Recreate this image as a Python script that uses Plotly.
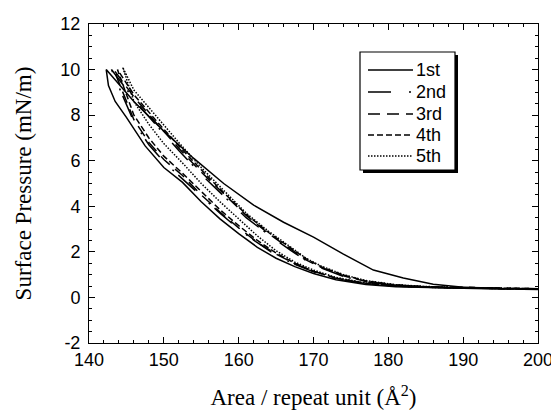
import plotly.graph_objects as go

# ---- data (Area in Å², Surface pressure in mN/m) ----
cycle_names = ["1st", "2nd", "3rd", "4th", "5th"]

# 1st cycle: compression (200 -> 142) then expansion (142 -> 200)
c1_comp_x = [200, 195, 190, 186, 182, 178, 174, 170, 166, 162, 158, 154, 150, 146, 142.3]
c1_comp_y = [0.35, 0.38, 0.45, 0.58, 0.85, 1.2, 1.9, 2.65, 3.3, 4.05, 5.0, 6.1, 7.3, 8.6, 10.0]
c1_exp_x = [142.3, 142.6, 143.5, 145, 147.5, 150, 152.5, 155, 157.5, 160, 162.5, 165, 167.5, 170,
            173, 177, 181, 186, 190, 195, 200]
c1_exp_y = [10.0, 9.3, 8.6, 7.9, 6.65, 5.7, 5.05, 4.2, 3.45, 2.8, 2.2, 1.72, 1.35, 1.05,
            0.78, 0.57, 0.47, 0.42, 0.4, 0.37, 0.35]

# cycles 2-5: compression
comp_x = [200, 195, 190, 185, 181, 177, 174, 171, 169, 167, 164, 161, 158, 155, 152, 149, 146]
c2_comp_y = [0.38, 0.4, 0.42, 0.46, 0.52, 0.68, 0.92, 1.3, 1.62, 2.05, 2.75, 3.5, 4.45, 5.4, 6.45, 7.55, 8.7]
c3_comp_y = [0.38, 0.4, 0.43, 0.47, 0.54, 0.7, 0.95, 1.32, 1.65, 2.1, 2.8, 3.6, 4.55, 5.5, 6.55, 7.65, 8.8]
c4_comp_y = [0.38, 0.4, 0.43, 0.47, 0.55, 0.72, 0.98, 1.35, 1.7, 2.15, 2.85, 3.65, 4.6, 5.6, 6.65, 7.75, 8.9]
c5_comp_y = [0.38, 0.4, 0.43, 0.48, 0.56, 0.74, 1.0, 1.38, 1.72, 2.2, 2.9, 3.7, 4.7, 5.7, 6.8, 7.95, 9.1]

# turning points (smallest area, highest pressure) of cycles 2-5
peak_x = [143.0, 143.3, 143.8, 144.5]
peak_y = [10.0, 10.0, 10.0, 10.1]

# cycles 2-5: expansion
exp_x = [146, 148, 150, 152.5, 155, 157.5, 160, 162.5, 165, 167.5, 170, 173, 177, 181, 186, 190, 195, 200]
c2_exp_y = [7.7, 6.7, 5.95, 5.2, 4.45, 3.7, 3.0, 2.4, 1.85, 1.45, 1.12, 0.82, 0.6, 0.5, 0.44, 0.41, 0.38, 0.36]
c3_exp_y = [7.8, 6.8, 6.05, 5.35, 4.5, 3.75, 3.05, 2.42, 1.9, 1.48, 1.15, 0.84, 0.61, 0.5, 0.44, 0.41, 0.38, 0.36]
c4_exp_y = [8.0, 7.0, 6.2, 5.45, 4.65, 3.85, 3.15, 2.5, 1.95, 1.5, 1.15, 0.85, 0.62, 0.5, 0.44, 0.41, 0.38, 0.36]
c5_exp_y = [8.6, 7.6, 6.75, 5.9, 5.0, 4.2, 3.45, 2.7, 2.05, 1.55, 1.2, 0.88, 0.63, 0.5, 0.44, 0.41, 0.38, 0.36]

x_ticks = [140, 150, 160, 170, 180, 190, 200]
x_tick_labels = ["140", "150", "160", "170", "180", "190", "200"]
y_ticks = [-2, 0, 2, 4, 6, 8, 10, 12]
y_tick_labels = ["-2", "0", "2", "4", "6", "8", "10", "12"]

dashes = ["solid", "23px,18px,2px,6px", "12px,7px", "6px,3px", "1.5px,1.5px"]

# page has an 8px body margin around the figure
OFF = 8
W, H = 559 - OFF, 414 - OFF
ML, MR, MT, MB = 81, 21, 16, 71
PW, PH = W - ML - MR, H - MT - MB


def px_to_paper_x(px):
    return (px - OFF - ML) / PW


def px_to_paper_y(py):
    return (H - MB - (py - OFF)) / PH


fig = go.Figure()

# 1st cycle
fig.add_trace(go.Scatter(
    x=c1_comp_x + c1_exp_x[1:], y=c1_comp_y + c1_exp_y[1:],
    mode="lines", name=cycle_names[0],
    line=dict(color="black", width=1.5, dash=dashes[0]),
))

comp_sets = [c2_comp_y, c3_comp_y, c4_comp_y, c5_comp_y]
exp_sets = [c2_exp_y, c3_exp_y, c4_exp_y, c5_exp_y]
for i in range(4):
    xs = comp_x + [peak_x[i]] + exp_x
    ys = comp_sets[i] + [peak_y[i]] + exp_sets[i]
    fig.add_trace(go.Scatter(
        x=xs, y=ys, mode="lines", name=cycle_names[i + 1],
        line=dict(color="black", width=1.5, dash=dashes[i + 1]),
    ))

axis_common = dict(
    showline=True, linecolor="black", linewidth=1, mirror="ticks",
    ticks="inside", ticklen=6, tickwidth=1, tickcolor="black",
    showgrid=False, zeroline=False, automargin=False,
    tickfont=dict(family="Liberation Sans, Arial", size=18, color="black"),
)

fig.update_xaxes(
    range=[140, 200], tickvals=x_ticks, ticktext=x_tick_labels, **axis_common,
    minor=dict(dtick=2, ticks="inside", ticklen=3, tickcolor="black", showgrid=False),
    title=dict(text="Area / repeat unit (Å<sup>2</sup>)",
               font=dict(family="Liberation Serif, Times New Roman", size=23, color="black"),
               standoff=20),
)
fig.update_yaxes(
    range=[-2, 12], tickvals=y_ticks, ticktext=y_tick_labels, **axis_common,
    ticklabelstandoff=4,
    minor=dict(dtick=0.5, ticks="inside", ticklen=3, tickcolor="black", showgrid=False),
    title=dict(text="Surface Pressure (mN/m)",
               font=dict(family="Liberation Serif, Times New Roman", size=23, color="black"),
               standoff=22),
)

# ---- legend box (drawn by hand to match the original's compact layout) ----
box_l, box_r, box_t, box_b = 360, 455, 52, 170
shadow = 3
fig.add_shape(type="rect", xref="paper", yref="paper", layer="above",
              x0=px_to_paper_x(box_l + shadow), x1=px_to_paper_x(box_r + shadow),
              y0=px_to_paper_y(box_b + shadow), y1=px_to_paper_y(box_t + shadow),
              fillcolor="black", line=dict(width=0))
fig.add_shape(type="rect", xref="paper", yref="paper", layer="above",
              x0=px_to_paper_x(box_l), x1=px_to_paper_x(box_r),
              y0=px_to_paper_y(box_b), y1=px_to_paper_y(box_t),
              fillcolor="white", line=dict(color="black", width=1.2))
entry_y = [70, 92, 114, 135, 156]
for name, dash, ey in zip(cycle_names, dashes, entry_y):
    fig.add_shape(type="line", xref="paper", yref="paper", layer="above",
                  x0=px_to_paper_x(368), x1=px_to_paper_x(413),
                  y0=px_to_paper_y(ey), y1=px_to_paper_y(ey),
                  line=dict(color="black", width=1.5, dash=dash))
    fig.add_annotation(xref="paper", yref="paper", x=px_to_paper_x(414), y=px_to_paper_y(ey),
                       xanchor="left", yanchor="middle", text=name, showarrow=False,
                       font=dict(family="Liberation Sans, Arial", size=18, color="black"))

fig.update_layout(
    width=W, height=H,
    margin=dict(l=ML, r=MR, t=MT, b=MB),
    paper_bgcolor="white", plot_bgcolor="white",
    showlegend=False,
)

fig.write_html("out.html")
